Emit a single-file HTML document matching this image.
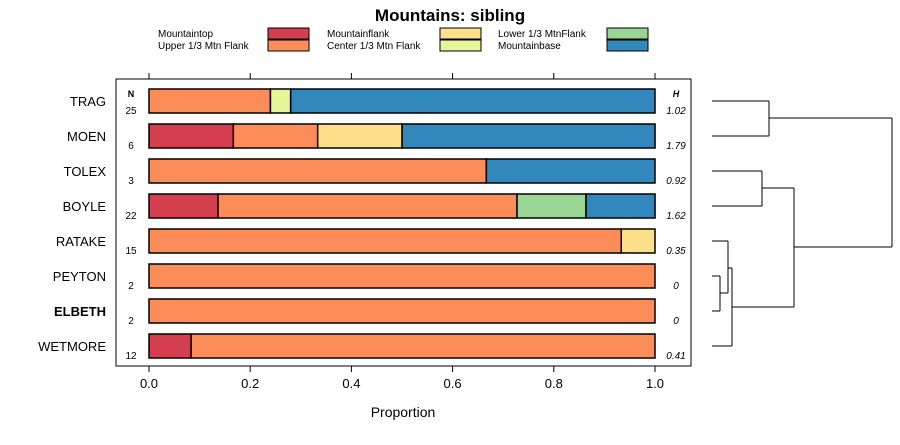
<!DOCTYPE html>
<html><head><meta charset="utf-8"><style>
body{margin:0;background:#fff}
svg{font-family:"Liberation Sans",sans-serif}
</style></head><body>
<svg id="c" width="900" height="440" xmlns="http://www.w3.org/2000/svg">
<text x="450" y="21" text-anchor="middle" font-size="17" font-weight="bold">Mountains: sibling</text>
<g id="legend"></g>
<rect x="116" y="79" width="575" height="287" fill="none" stroke="#000"/>
<g id="axes"></g><g id="bars"></g><g id="dendro" stroke="#000" fill="none"></g>
<text x="403" y="417" text-anchor="middle" font-size="14">Proportion</text>
</svg>
<script>
const categories=["Mountaintop","Upper 1/3 Mtn Flank","Mountainflank","Center 1/3 Mtn Flank","Lower 1/3 MtnFlank","Mountainbase"];
const colors=["#d53e4f","#fc8d59","#fee08b","#e6f598","#99d594","#3288bd"];
const sites=["TRAG","MOEN","TOLEX","BOYLE","RATAKE","PEYTON","ELBETH","WETMORE"];
const nValues=[25,6,3,22,15,2,2,12];
const hValues=["1.02","1.79","0.92","1.62","0.35","0","0","0.41"];
const props=[
[0,0.24,0,0.04,0,0.72],
[0.1667,0.1667,0.1667,0,0,0.5],
[0,0.6667,0,0,0,0.3333],
[0.1364,0.5909,0,0,0.1364,0.1364],
[0,0.9333,0.0667,0,0,0],
[0,1,0,0,0,0],
[0,1,0,0,0,0],
[0.0833,0.9167,0,0,0,0]];
const ticks=[0,0.2,0.4,0.6,0.8,1.0];
const NS="http://www.w3.org/2000/svg";
const X=v=>149+v*506, Y=i=>101+i*35;
function mk(t,a,p,txt){const e=document.createElementNS(NS,t);for(const k in a)e.setAttribute(k,a[k]);if(txt!==undefined)e.textContent=txt;p.appendChild(e);return e;}
const lg=document.getElementById('legend');
const lx=[158,327,498],bx=[268,440,607];
categories.forEach((c,i)=>{const col=Math.floor(i/2),r=i%2;
 const t=mk('text',{x:lx[col],y:37+r*12,'font-size':10},lg,c);
 
 const b=mk('rect',{x:bx[col],y:28+r*12,width:41,height:11,fill:colors[i],stroke:'#000'},lg);
 });
const ax=document.getElementById('axes');
ticks.forEach(t=>{mk('line',{x1:X(t),x2:X(t),y1:366,y2:372,stroke:'#000'},ax);mk('line',{x1:X(t),x2:X(t),y1:73,y2:79,stroke:'#000'},ax);
 const l=mk('text',{x:X(t),y:388,'text-anchor':'middle','font-size':13},ax,t.toFixed(1));
 });
mk('text',{x:131,y:97,'text-anchor':'middle','font-size':9,'font-weight':'bold'},ax,'N');
mk('text',{x:676,y:97,'text-anchor':'middle','font-size':9,'font-weight':'bold','font-style':'italic'},ax,'H');
const bg=document.getElementById('bars');
sites.forEach((s,i)=>{const y=Y(i);
 const l=mk('text',{x:106,y:y+5,'text-anchor':'end','font-size':13,'font-weight':s==='ELBETH'?'bold':'normal'},bg,s);
 
 const n=mk('text',{x:131,y:y+13,'text-anchor':'middle','font-size':10},bg,nValues[i]);
 
 const h=mk('text',{x:676,y:y+13,'text-anchor':'middle','font-size':10,'font-style':'italic'},bg,hValues[i]);
 
 let c=0;props[i].forEach((p,k)=>{if(p<=0)return;
  const r=mk('rect',{x:X(c),y:y-12,width:X(c+p)-X(c),height:24,fill:colors[k],stroke:'#000','stroke-width':1.5},bg);
  c+=p;});
});
const d=document.getElementById('dendro');
[[712,101,769,101],[712,136,769,136],[769,101,769,136],[769,118,892,118],
 [712,171,762,171],[712,206,762,206],[762,171,762,206],[762,188,794,188],
 [712,241,728,241],[712,276,720,276],[712,311,720,311],[720,276,720,311],[720,293,728,293],[728,241,728,293],
 [728,268,732,268],[712,346,732,346],[732,268,732,346],[732,307,794,307],[794,188,794,307],
 [794,247,892,247],[892,118,892,247]].forEach(a=>mk('line',{x1:a[0],y1:a[1],x2:a[2],y2:a[3]},d));
</script>
</body></html>
